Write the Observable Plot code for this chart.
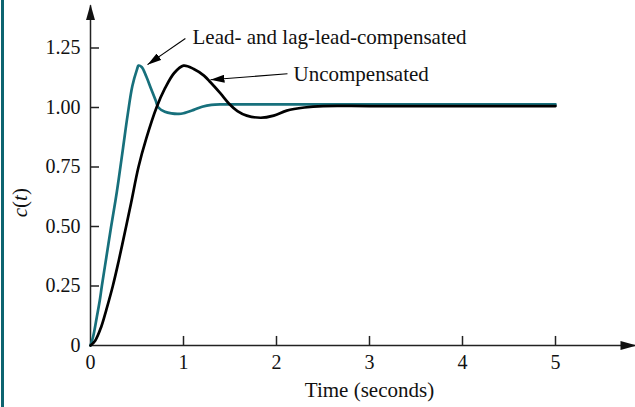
<!DOCTYPE html>
<html><head><meta charset="utf-8">
<script src="https://cdn.jsdelivr.net/npm/d3@7"></script>
<script src="https://cdn.jsdelivr.net/npm/@observablehq/plot@0.6"></script>
<style>body{margin:0;background:#fff}#chart{width:635px;height:407px}</style>
</head><body><div id="chart"></div>
<script>
// --- data ---
const leadTime  = [0, 0.03, 0.068, 0.1, 0.122, 0.17, 0.222, 0.269, 0.3, 0.35, 0.4, 0.45, 0.5, 0.516, 0.55, 0.6, 0.65, 0.7, 0.73, 0.8, 0.87, 0.95, 1.0, 1.11, 1.2, 1.3, 1.42, 1.6, 2.0, 3.0, 4.0, 5.0];
const leadValue = [0, 0.04, 0.12, 0.19, 0.25, 0.37, 0.5, 0.61, 0.69, 0.83, 0.97, 1.09, 1.16, 1.176, 1.17, 1.13, 1.08, 1.03, 1.0, 0.982, 0.975, 0.973, 0.976, 0.99, 1.003, 1.011, 1.013, 1.013, 1.013, 1.013, 1.013, 1.013];
const uncompTime  = [0, 0.05, 0.114, 0.17, 0.24, 0.3, 0.383, 0.437, 0.516, 0.6, 0.71, 0.8, 0.9, 1.0, 1.11, 1.22, 1.29, 1.4, 1.49, 1.58, 1.68, 1.83, 1.97, 2.11, 2.3, 2.5, 3, 4, 5];
const uncompValue = [0, 0.02, 0.077, 0.15, 0.25, 0.35, 0.5, 0.6, 0.75, 0.87, 1.0, 1.08, 1.145, 1.176, 1.162, 1.134, 1.106, 1.058, 1.016, 0.985, 0.966, 0.957, 0.966, 0.987, 1.0, 1.006, 1.006, 1.006, 1.006];
const xTicks = [0, 1, 2, 3, 4, 5];
const xTickLabels = ["0", "1", "2", "3", "4", "5"];
const yTicks = [0, 0.25, 0.5, 0.75, 1, 1.25];
const yTickLabels = ["0", "0.25", "0.50", "0.75", "1.00", "1.25"];
const seriesNames = ["Lead- and lag-lead-compensated", "Uncompensated"];
const annotTail = [[1.02, 1.29], [2.118, 1.1416]];
const annotTip  = [[0.613, 1.18], [1.29, 1.1164]];
const annotText = [[1.097, 1.294], [2.183, 1.139]];
const xLabel = "Time (seconds)";
const xLabelPos = [3, -0.19];
const yLabel = "c(t)";
const yLabelPos = [-0.753, 0.6];
const axisEnd = [5.86, 1.43];
const xTickLen = 0.038;   // tick length along y (data units)
const yTickLen = 0.097;   // tick length along x (data units)

const teal = "#17707c";
const lead = leadTime.map((t, i) => ({t, c: leadValue[i]}));
const uncomp = uncompTime.map((t, i) => ({t, c: uncompValue[i]}));
const annots = seriesNames.map((name, i) => ({
  name, x1: annotTail[i][0], y1: annotTail[i][1], x2: annotTip[i][0], y2: annotTip[i][1],
  tx: annotText[i][0], ty: annotText[i][1]
}));
const axes = [
  {x1: 0, y1: 0, x2: 0, y2: axisEnd[1]},
  {x1: 0, y1: 0, x2: axisEnd[0], y2: 0}
];

const plot = Plot.plot({
  width: 635, height: 407,
  marginLeft: 90, marginRight: 0, marginTop: 0, marginBottom: 62,
  style: {fontFamily: "'Liberation Serif', 'Times New Roman', serif", fontSize: "20px", background: "white", color: "#111"},
  x: {domain: [0, 5], range: [90, 555], axis: null},
  y: {domain: [0, 1.25], range: [345, 47.5], axis: null},
  marks: [
    Plot.link(axes, {x1: "x1", y1: "y1", x2: "x2", y2: "y2", stroke: "#222", strokeWidth: 1.5}),
    Plot.ruleY(yTicks.slice(1), {x1: 0, x2: yTickLen, stroke: "#222", strokeWidth: 1.5}),
    Plot.ruleX(xTicks.slice(1), {y1: 0, y2: xTickLen, stroke: "#222", strokeWidth: 1.5}),
    Plot.axisY(yTicks, {tickSize: 0, tickPadding: 10, tickFormat: d => yTickLabels[yTicks.indexOf(d)], label: null, fontSize: 20}),
    Plot.axisX(xTicks, {tickSize: 0, tickPadding: 9, tickFormat: d => xTickLabels[xTicks.indexOf(d)], label: null, fontSize: 20}),
    Plot.line(lead, {x: "t", y: "c", stroke: teal, strokeWidth: 2.7, curve: "catmull-rom"}),
    Plot.line(uncomp, {x: "t", y: "c", stroke: "#000", strokeWidth: 2.7, curve: "catmull-rom"}),
    Plot.link(annots, {x1: "x1", y1: "y1", x2: "x2", y2: "y2", stroke: "#000", strokeWidth: 1.1}),
    Plot.text(annots, {x: "tx", y: "ty", text: "name", textAnchor: "start", lineAnchor: "middle", fontSize: 21}),
    Plot.text([xLabel], {x: xLabelPos[0], y: xLabelPos[1], text: d => d, lineAnchor: "middle", fontSize: 21}),
    Plot.text([yLabel], {x: yLabelPos[0], y: yLabelPos[1], text: d => d, rotate: -90, lineAnchor: "middle", fontSize: 21})
  ]
});
document.getElementById("chart").append(plot);

const svg = d3.select(plot);
const defs = svg.insert("defs", ":first-child");
defs.append("marker").attr("id", "axisHead").attr("markerUnits", "userSpaceOnUse")
  .attr("viewBox", "0 -5 16 10").attr("markerWidth", 16).attr("markerHeight", 10)
  .attr("refX", 15).attr("refY", 0).attr("orient", "auto")
  .append("path").attr("d", "M0,-4.5L16,0L0,4.5Z").attr("fill", "#111");
defs.append("marker").attr("id", "annotHead").attr("markerUnits", "userSpaceOnUse")
  .attr("viewBox", "0 -4 14 8").attr("markerWidth", 14).attr("markerHeight", 8)
  .attr("refX", 14).attr("refY", 0).attr("orient", "auto")
  .append("path").attr("d", "M0,-4L14,0L0,4Z").attr("fill", "#000");
const linkGroups = svg.selectAll('g[aria-label="link"]').nodes();
if (linkGroups[0]) d3.select(linkGroups[0]).selectAll("path").attr("marker-end", "url(#axisHead)");
if (linkGroups[1]) d3.select(linkGroups[1]).selectAll("path").attr("marker-end", "url(#annotHead)");
svg.append("rect").attr("x", 1).attr("y", 0).attr("width", 3).attr("height", 407).attr("fill", "#0d6470");
svg.selectAll("text").filter(function() { return this.textContent === yLabel; }).each(function() {
  const t = d3.select(this);
  t.text("");
  t.append("tspan").attr("font-style", "italic").text("c");
  t.append("tspan").text("(");
  t.append("tspan").attr("font-style", "italic").text("t");
  t.append("tspan").text(")");
});
</script></body></html>
